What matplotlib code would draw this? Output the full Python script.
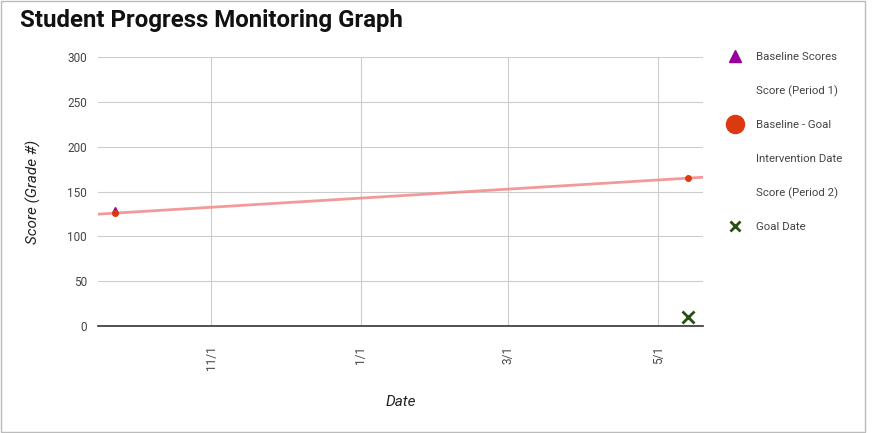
import matplotlib
matplotlib.use('Agg')
import matplotlib.pyplot as plt
import matplotlib.dates as mdates
from matplotlib.lines import Line2D
from matplotlib.patches import Rectangle
import numpy as np
import pandas as pd

# data
baseline_dates = pd.to_datetime(['2023-09-23'])
baseline_scores = [130]
goal_dates = pd.to_datetime(['2023-09-23', '2024-05-13'])
goal_scores = [126, 165]
goaldate_dates = pd.to_datetime(['2024-05-13'])
goaldate_scores = [10]
tick_dates = pd.to_datetime(['2023-11-01', '2024-01-01', '2024-03-01', '2024-05-01'])
tick_labels = ['11/1', '1/1', '3/1', '5/1']
x_range = pd.to_datetime(['2023-09-16', '2024-05-19'])

legend_labels = ['Baseline Scores', 'Score (Period 1)', 'Baseline - Goal',
                 'Intervention Date', 'Score (Period 2)', 'Goal Date']

plt.rcParams['font.family'] = ['Roboto', 'DejaVu Sans']

fig = plt.figure(figsize=(8.75, 4.33), dpi=100)
ax = fig.add_axes([0.112, 0.247, 0.691, 0.621])

# trend line across the whole axis
xn = mdates.date2num(goal_dates)
slope, icpt = np.polyfit(xn, goal_scores, 1)
xr = mdates.date2num(x_range)
ax.plot(xr, slope * xr + icpt, color='#f08080', lw=2, alpha=0.8, zorder=3)

ax.plot(mdates.date2num(baseline_dates), baseline_scores, '^', color='#990099',
        ms=5, zorder=4)
ax.plot(xn, goal_scores, 'o', color='#dc3912', ms=4, zorder=5)
ax.plot(mdates.date2num(goaldate_dates), goaldate_scores, 'x', color='#274e13',
        ms=8, mew=2, zorder=5)

ax.set_xlim(xr[0], xr[1])
ax.set_ylim(0, 300)
ax.set_yticks(range(0, 301, 50))
ax.set_xticks(mdates.date2num(tick_dates))
ax.set_xticklabels(tick_labels, rotation=90)
ax.grid(True, color='#cccccc', lw=0.8)
ax.set_axisbelow(True)
for s in ['top', 'right', 'left']:
    ax.spines[s].set_visible(False)
ax.spines['bottom'].set_color('#333333')
ax.spines['bottom'].set_linewidth(1.2)
ax.tick_params(length=0, labelsize=8.5, labelcolor='#444444', pad=8)
ax.tick_params(axis='x', pad=14)

ax.set_xlabel('Date', fontstyle='italic', fontsize=11, color='#222222', labelpad=18)
ax.set_ylabel('Score (Grade #)', fontstyle='italic', fontsize=11, color='#222222', labelpad=19)

fig.text(0.023, 0.952, 'Student Progress Monitoring Graph', fontsize=17.3,
         fontweight='bold', color='#111111', va='center')

handles = [
    Line2D([], [], ls='', marker='^', color='#990099', ms=9),
    Line2D([], [], ls='', marker=''),
    Line2D([], [], ls='', marker='o', color='#dc3912', ms=13),
    Line2D([], [], ls='', marker=''),
    Line2D([], [], ls='', marker=''),
    Line2D([], [], ls='', marker='x', color='#274e13', ms=7, mew=2),
]
fig.legend(handles, legend_labels, loc='upper left', bbox_to_anchor=(0.832, 0.880),
           frameon=False, fontsize=8.2, labelspacing=2.06, handlelength=1.2,
           handletextpad=1.3, labelcolor='#444444', borderaxespad=0, borderpad=0)

fig.patches.append(Rectangle((0.001, 0.002), 0.987, 0.996, transform=fig.transFigure,
                             fill=False, ec='#bbbbbb', lw=1))

fig.savefig('out.png', dpi=100)
